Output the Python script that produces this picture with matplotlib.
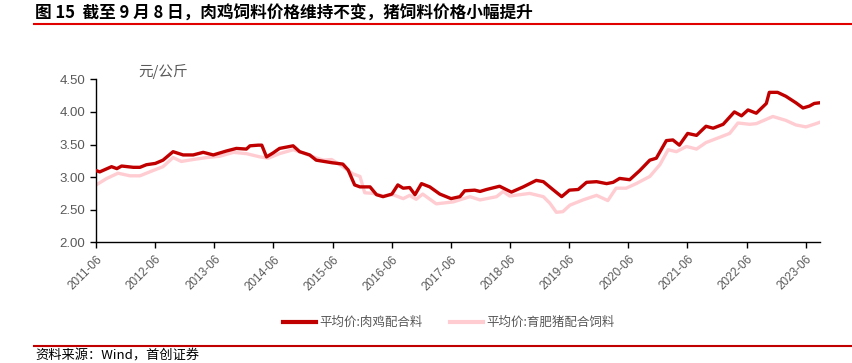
import matplotlib
matplotlib.use("Agg")
import matplotlib.pyplot as plt
from matplotlib.lines import Line2D

plt.rcParams['font.family'] = ['Noto Sans CJK SC', 'DejaVu Sans']

# time in decimal years, values in 元/公斤
broiler_t = [2011.42, 2011.48, 2011.68, 2011.77, 2011.85, 2012.05, 2012.16, 2012.27,
             2012.42, 2012.55, 2012.72, 2012.89, 2013.06, 2013.23, 2013.40, 2013.62,
             2013.79, 2013.96, 2014.02, 2014.16, 2014.22, 2014.30, 2014.41, 2014.52,
             2014.75, 2014.86, 2015.03, 2015.14, 2015.41, 2015.59, 2015.68, 2015.79,
             2015.88, 2016.05, 2016.16, 2016.27, 2016.42, 2016.52, 2016.61, 2016.72,
             2016.81, 2016.92, 2017.06, 2017.23, 2017.42, 2017.57, 2017.65, 2017.82,
             2017.91, 2018.02, 2018.24, 2018.44, 2018.64, 2018.86, 2018.98, 2019.14,
             2019.29, 2019.42, 2019.57, 2019.71, 2019.88, 2020.05, 2020.16, 2020.27,
             2020.44, 2020.61, 2020.78, 2020.89, 2021.06, 2021.17, 2021.28, 2021.42,
             2021.57, 2021.73, 2021.85, 2022.02, 2022.21, 2022.33, 2022.44, 2022.58,
             2022.75, 2022.80, 2022.94, 2023.08, 2023.25, 2023.37, 2023.48, 2023.56,
             2023.65]
broiler_v = [3.10, 3.08, 3.16, 3.13, 3.17, 3.15, 3.15, 3.19,
             3.21, 3.26, 3.39, 3.34, 3.34, 3.38, 3.34, 3.40,
             3.44, 3.43, 3.48, 3.49, 3.49, 3.31, 3.37, 3.44,
             3.48, 3.39, 3.34, 3.26, 3.22, 3.20, 3.11, 2.88,
             2.85, 2.85, 2.73, 2.70, 2.74, 2.88, 2.83, 2.84,
             2.73, 2.90, 2.85, 2.74, 2.67, 2.70, 2.79, 2.80,
             2.78, 2.81, 2.86, 2.77, 2.85, 2.95, 2.93, 2.81,
             2.70, 2.80, 2.81, 2.92, 2.93, 2.90, 2.92, 2.98,
             2.96, 3.10, 3.26, 3.29, 3.56, 3.57, 3.49, 3.67,
             3.64, 3.78, 3.75, 3.81, 4.00, 3.94, 4.03, 3.98,
             4.13, 4.30, 4.30, 4.24, 4.14, 4.06, 4.09, 4.13,
             4.14]

pig_t = [2011.42, 2011.60, 2011.79, 2011.99, 2012.16, 2012.38, 2012.55, 2012.72,
         2012.86, 2013.06, 2013.29, 2013.51, 2013.74, 2013.96, 2014.19, 2014.33,
         2014.52, 2014.75, 2014.92, 2015.09, 2015.26, 2015.40, 2015.54, 2015.76,
         2015.88, 2015.96, 2016.10, 2016.27, 2016.44, 2016.61, 2016.72, 2016.83,
         2016.94, 2017.17, 2017.46, 2017.74, 2017.91, 2018.19, 2018.30, 2018.41,
         2018.75, 2018.98, 2019.09, 2019.20, 2019.31, 2019.43, 2019.65, 2019.88,
         2020.07, 2020.21, 2020.38, 2020.55, 2020.78, 2020.95, 2021.09, 2021.23,
         2021.40, 2021.57, 2021.73, 2021.96, 2022.13, 2022.27, 2022.47, 2022.58,
         2022.86, 2023.08, 2023.25, 2023.42, 2023.59, 2023.65]
pig_v = [2.88, 2.98, 3.06, 3.02, 3.02, 3.10, 3.16, 3.30,
         3.24, 3.27, 3.30, 3.32, 3.38, 3.36, 3.31, 3.29,
         3.36, 3.42, 3.37, 3.31, 3.26, 3.27, 3.19, 3.05,
         3.01, 2.76, 2.75, 2.71, 2.73, 2.67, 2.72, 2.66,
         2.74, 2.59, 2.62, 2.70, 2.65, 2.70, 2.78, 2.71,
         2.75, 2.70, 2.60, 2.46, 2.47, 2.57, 2.65, 2.72,
         2.64, 2.83, 2.83, 2.90, 3.01, 3.19, 3.42, 3.39,
         3.47, 3.43, 3.53, 3.61, 3.67, 3.83, 3.81, 3.82,
         3.93, 3.87, 3.80, 3.77, 3.82, 3.84]

years = list(range(2011, 2024))
tick_labels = [f"{y}-06" for y in years]
yticks = [2.00, 2.50, 3.00, 3.50, 4.00, 4.50]

red = '#C00000'
pink = '#FFCCD2'
grey = '#595959'

fig = plt.figure(figsize=(8.53, 3.63), dpi=100)
ax = fig.add_axes([0.1125, 0.3325, 0.849, 0.449])

ax.plot(broiler_t, broiler_v, color=red, lw=2.4, solid_joinstyle='round', zorder=3)
ax.plot(pig_t, pig_v, color=pink, lw=2.4, solid_joinstyle='round', zorder=2)

ax.set_xlim(2011.417, 2023.66)
ax.set_ylim(2.0, 4.5)
ax.set_xticks([y + 5 / 12 for y in years])
ax.set_xticklabels(tick_labels, rotation=45, ha='right', rotation_mode='anchor',
                   fontsize=8.5, color=grey, family=['Liberation Sans', 'DejaVu Sans'])
ax.set_yticks(yticks)
ax.set_yticklabels([f"{v:.2f}" for v in yticks], fontsize=9.5, color=grey,
                   family=['Liberation Sans', 'DejaVu Sans'])
ax.tick_params(axis='both', direction='out', length=4, width=1, color='black')
ax.tick_params(axis='x', pad=4)
for s in ['top', 'right']:
    ax.spines[s].set_visible(False)
for s in ['left', 'bottom']:
    ax.spines[s].set_linewidth(1.0)

fig.text(138 / 853, 1 - 71 / 363, '元/公斤', fontsize=10.5, color=grey, va='center', ha='left')

handles = [Line2D([], [], color=red, lw=3), Line2D([], [], color=pink, lw=3)]
fig.legend(handles, ['平均价:肉鸡配合料', '平均价:育肥猪配合饲料'], ncol=2,
           loc='center', bbox_to_anchor=(449 / 853, 1 - 322.5 / 363), frameon=False,
           fontsize=9, handlelength=2.6, handletextpad=0.3, columnspacing=2.2,
           labelcolor=grey)

# title and frame lines
fig.text(35 / 853, 1 - 14 / 363, '图 15  截至 9 月 8 日，肉鸡饲料价格维持不变，猪饲料价格小幅提升',
         fontsize=12, fontweight='bold', va='center', ha='left', color='black')
fig.add_artist(Line2D([34 / 853, 1], [1 - 24 / 363] * 2, color='#E00000', lw=1.5))
fig.add_artist(Line2D([34 / 853, 1], [1 - 346 / 363] * 2, color='#C00000', lw=1.5))
fig.text(35 / 853, 1 - 356 / 363, '资料来源：Wind，首创证券', fontsize=9.5, style='italic',
         va='center', ha='left', color='black')

fig.savefig('out.png', dpi=100)
